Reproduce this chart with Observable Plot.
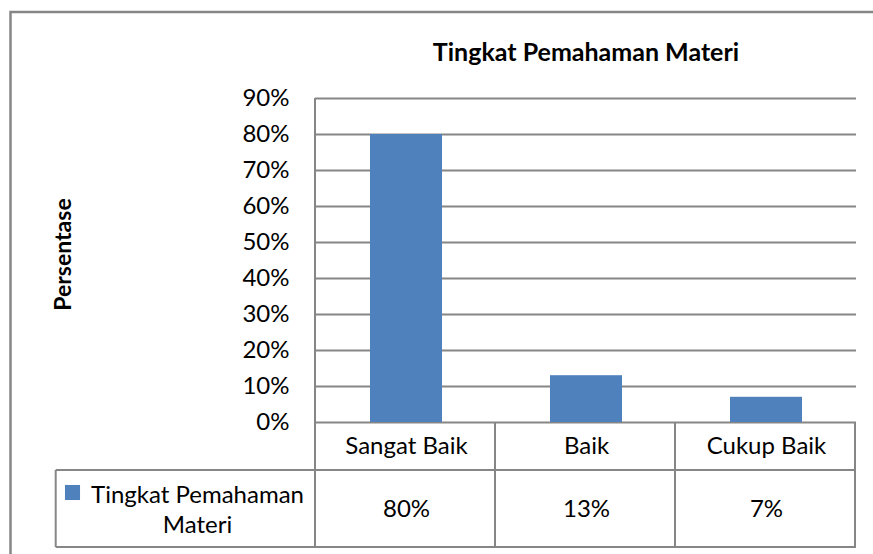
<!DOCTYPE html>
<html>
<head>
<meta charset="utf-8">
<script src="https://cdn.jsdelivr.net/npm/d3@7"></script>
<script src="https://cdn.jsdelivr.net/npm/@observablehq/plot@0.6"></script>
<style>
  html, body { margin: 0; padding: 0; background: white; }
</style>
</head>
<body>
<div id="chart"></div>
<script>
const categories = ["Sangat Baik", "Baik", "Cukup Baik"];
const values = [0.80, 0.13, 0.07];
const valueLabels = ["80%", "13%", "7%"];
const yTicks = [0, 0.1, 0.2, 0.3, 0.4, 0.5, 0.6, 0.7, 0.8, 0.9];
const title = "Tingkat Pemahaman Materi";
const yLabel = "Persentase";
const seriesName = "Tingkat Pemahaman\nMateri";

const data = categories.map((c, i) => ({category: c, value: values[i], label: valueLabels[i]}));
const barColor = "#4F81BD";
const lineColor = "#868686";

const chart = Plot.plot({
  width: 873,
  height: 554,
  marginLeft: 315,
  marginRight: 17,
  marginTop: 98,
  marginBottom: 132,
  style: {fontFamily: "Lato, 'Open Sans', sans-serif", fontSize: "24px", background: "white", color: "black", overflow: "hidden"},
  x: {domain: categories, paddingInner: 0.6, paddingOuter: 0.3, axis: null, label: null},
  y: {domain: [0, 0.9], axis: null, label: null},
  marks: [
    Plot.ruleY(yTicks, {stroke: lineColor, strokeWidth: 2, strokeOpacity: 1}),
    Plot.barY(data, {x: "category", y: "value", fill: barColor}),
    Plot.axisY({ticks: yTicks, tickSize: 0, tickPadding: 26, label: null, tickFormat: d => Math.round(d * 100) + "%", fontSize: 24}),
    Plot.text(data, {x: "category", y: () => 0, text: "category", dy: 24, fontSize: 24}),
    Plot.text(data, {x: "category", y: () => 0, text: "label", dy: 87, fontSize: 24}),
    Plot.text([title], {frameAnchor: "top", dy: -46, lineAnchor: "middle", fontWeight: "bold", fontSize: 25}),
    Plot.text([yLabel], {frameAnchor: "left", dx: -252, dy: -6, rotate: -90, textAnchor: "middle", fontWeight: "bold", fontSize: 23}),
    Plot.text([seriesName], {frameAnchor: "bottom-left", dx: -118, dy: 86, textAnchor: "middle", lineAnchor: "middle", lineHeight: 1.25, fontSize: 24}),
    Plot.dot([seriesName], {frameAnchor: "bottom-left", dx: -243, dy: 70, symbol: "square", r: 8.5, fill: barColor, stroke: "none"})
  ]
});

// Table / axis borders built from the Plot scales
const svg = d3.select(chart);
const xs = chart.scale("x");
const ys = chart.scale("y");
const x0 = xs.range[0], x1 = xs.range[1], step = xs.step;
const yTop = ys.apply(0.9), yBase = ys.apply(0);
const rowH = 48, row2 = 77;
const legendLeft = 55.7;
const g = svg.append("g").attr("stroke", lineColor).attr("stroke-width", 2).attr("fill", "none");
// vertical axis line
g.append("line").attr("x1", x0).attr("x2", x0).attr("y1", yTop).attr("y2", yBase + rowH + row2);
// category boundaries
for (let i = 1; i <= categories.length; i++) {
  const xx = x0 + i * step;
  g.append("line").attr("x1", xx).attr("x2", xx).attr("y1", yBase).attr("y2", yBase + rowH + row2);
}
// horizontal table lines
g.append("line").attr("x1", legendLeft).attr("x2", x1).attr("y1", yBase + rowH).attr("y2", yBase + rowH);
g.append("line").attr("x1", legendLeft).attr("x2", x1).attr("y1", yBase + rowH + row2).attr("y2", yBase + rowH + row2);
g.append("line").attr("x1", legendLeft).attr("x2", legendLeft).attr("y1", yBase + rowH).attr("y2", yBase + rowH + row2);
// outer chart border (cut off at right / bottom)
svg.append("rect").attr("x", 10.5).attr("y", 12).attr("width", 1000).attr("height", 1000)
  .attr("fill", "none").attr("stroke", lineColor).attr("stroke-width", 2.5);

document.getElementById("chart").appendChild(chart);
</script>
</body>
</html>
